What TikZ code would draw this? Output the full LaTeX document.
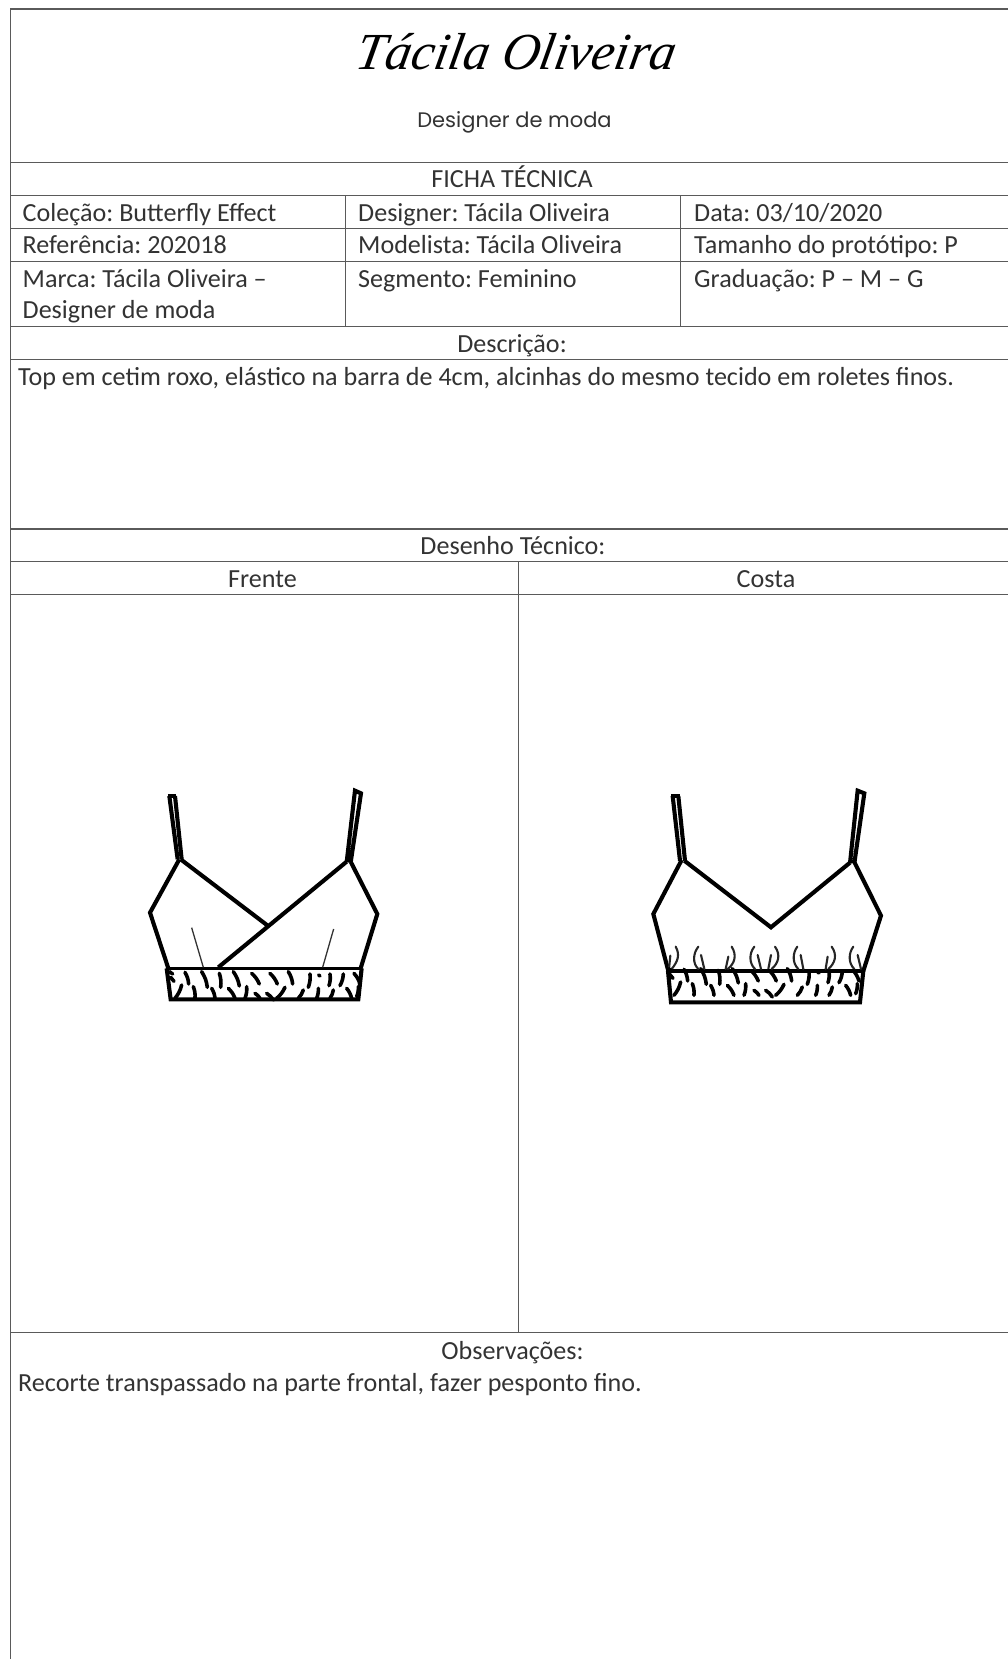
\documentclass[tikz,border=0pt]{standalone}
\usepackage{fontspec}
\setmainfont{Carlito}
\newfontfamily\logofont{Liberation Serif}
\newfontfamily\subfont{Poppins}
\definecolor{rule}{HTML}{5A5A5A}
\definecolor{ink}{HTML}{333333}
\frenchspacing
\tikzset{
  grid/.style={draw=rule,line width=1.3pt},
  cell/.style={anchor=base west,inner sep=0pt,text=ink,font=\frenchspacing\fontsize{26.1}{30}\selectfont},
  cellc/.style={anchor=base,inner sep=0pt,text=ink,font=\frenchspacing\fontsize{26.1}{30}\selectfont},
  garment/.style={draw=black,line width=4.1pt,line join=miter},
  thin seam/.style={draw=black!80,line width=1.3pt},
  fleck/.style={draw=black,line width=3.6pt,line cap=round},
  gather/.style={draw=black!85,line width=2.1pt,line cap=round},
}
\newcommand{\bandmarks}{%
  \foreach \a/\b/\c/\d in {118/605/128/612,122/622/132/634,165/607/176/642,215/605/232/652,268/610/272/652,310/605/328/648,365/610/388/642,420/610/442/642,475/605/488/642,540/612/535/652,566/615/570/618,600/612/597/647,640/612/630/647,672/610/690/642,155/645/135/685,190/650/195/685,245/655/255/685,295/655/315/685,350/650/345/685,375/670/390/685,410/670/430/690,465/652/440/685,520/660/505/685,565/655/560/685,610/660/600/685,650/655/665/685,685/650/680/680}{
    \draw[fleck] (\a,\b) to[bend left=12] (\c,\d);
  }%
}
\begin{document}
\begin{tikzpicture}[x=1pt,y=-1pt]
\useasboundingbox[fill=white] (0,0) rectangle (1008,1659);
% grid
\draw[grid] (1008,9) -- (10.5,9) -- (10.5,1659);
\foreach \yy in {162.7,195.7,228.4,261.3,326.7,359.7,529,561.6,594.5,1332.7}{
  \draw[grid] (10.5,\yy) -- (1008,\yy);
}
\draw[grid] (345.7,195.7) -- (345.7,326.7);
\draw[grid] (680.7,195.7) -- (680.7,326.7);
\draw[grid] (518.3,561.6) -- (518.3,1332.7);
% header
\node[anchor=base,inner sep=0pt,font=\logofont\itshape\fontsize{52}{56}\selectfont,xslant=0.18] (logo) at (514,70) {Tácila Oliveira};
\node[anchor=base,inner sep=0pt,text=ink,font=\subfont\fontsize{21}{24}\selectfont] (sub) at (514.5,127.5) {Designer de moda};
% table text
\node[cellc] (ficha) at (512,187.7) {FICHA TÉCNICA};
\node[cell] (c1) at (22.5,221) {Coleção: Butterfly Effect};
\node[cell] (c2) at (22.5,253.8) {Referência: 202018};
\node[cell] (c3) at (22.5,287) {Marca: Tácila Oliveira --};
\node[cell] (c4) at (22.5,318.8) {Designer de moda};
\node[cell] (d1) at (358,221) {Designer: Tácila Oliveira};
\node[cell] (d2) at (358,253.8) {Modelista: Tácila Oliveira};
\node[cell] (d3) at (358,287) {Segmento: Feminino};
\node[cell] (e1) at (694,221) {Data: 03/10/2020};
\node[cell] (e2) at (694,253.8) {Tamanho do protótipo: P};
\node[cell] (e3) at (694,287) {Graduação: P -- M -- G};
\node[cellc] (descr) at (512,352) {Descrição:};
\node[cell] (desc) at (18,385) {Top em cetim roxo, elástico na barra de 4cm, alcinhas do mesmo tecido em roletes finos.};
\node[cellc] (dt) at (513,554.6) {Desenho Técnico:};
\node[cellc] (fr) at (262.5,587.5) {Frente};
\node[cellc] (co) at (766,587.5) {Costa};
\node[cellc] (ob) at (512.5,1359) {Observações:};
\node[cell] (rec) at (18,1391.5) {Recorte transpassado na parte frontal, fazer pesponto fino.};
% front garment
\begin{scope}[shift={(130,770)},x=0.3333pt,y=-0.3333pt]
  \draw[garment] (114,78) -- (139,78);
  \draw[garment] (118,78) -- (143,268);
  \draw[garment] (135,78) -- (155,268);
  \draw[garment] (148,268) -- (60,428) -- (115,595);
  \draw[garment] (152,268) -- (412,466);
  \draw[garment] (650,275) -- (265,592);
  \draw[garment] (650,277) -- (675,62) -- (693,70) -- (662,278);
  \draw[garment] (662,275) -- (742,432) -- (692,595);
  \draw[garment,line width=3.4pt] (108,595) -- (696,595);
  \draw[garment] (110,595) -- (122,688) -- (685,688) -- (695,595);
  \draw[thin seam] (185,473) -- (220,592);
  \draw[thin seam] (611,477) -- (578,592);
  \bandmarks
\end{scope}
% back garment
\begin{scope}[shift={(635,770)},x=0.3333pt,y=-0.3333pt]
  \draw[garment] (108,78) -- (135,78);
  \draw[garment] (113,78) -- (135,272);
  \draw[garment] (130,78) -- (150,272);
  \draw[garment] (140,270) -- (55,432) -- (100,603);
  \draw[garment] (148,272) -- (408,472) -- (645,278);
  \draw[garment] (645,280) -- (668,62) -- (688,70) -- (658,280);
  \draw[garment] (658,276) -- (738,437) -- (685,603);
  \draw[garment,line width=3.4pt] (96,603) -- (688,603);
  \draw[garment] (99,603) -- (108,697) -- (675,697) -- (685,603);
  \draw[gather] (122,530) .. controls (136,555) and (128,575) .. (110,597);
  \draw[gather] (106,557) -- (102,597);
  \draw[gather] (190,530) .. controls (174,550) and (172,580) .. (190,597);
  \draw[gather] (198,555) -- (208,597);
  \draw[gather] (290,530) .. controls (306,555) and (300,580) .. (278,597);
  \draw[gather] (280,560) -- (272,597);
  \draw[gather] (358,530) .. controls (342,550) and (342,580) .. (360,597);
  \draw[gather] (368,555) -- (378,597);
  \draw[gather] (420,530) .. controls (438,555) and (430,580) .. (410,597);
  \draw[gather] (408,555) -- (400,597);
  \draw[gather] (487,530) .. controls (472,550) and (472,580) .. (490,597);
  \draw[gather] (497,555) -- (505,597);
  \draw[gather] (590,530) .. controls (608,555) and (600,580) .. (580,597);
  \draw[gather] (578,560) -- (572,597);
  \draw[gather] (655,530) .. controls (640,550) and (640,580) .. (658,597);
  \draw[gather] (668,555) -- (678,597);
  \begin{scope}[shift={(-6pt,3pt)}]
    \bandmarks
  \end{scope}
\end{scope}
\end{tikzpicture}
\end{document}
